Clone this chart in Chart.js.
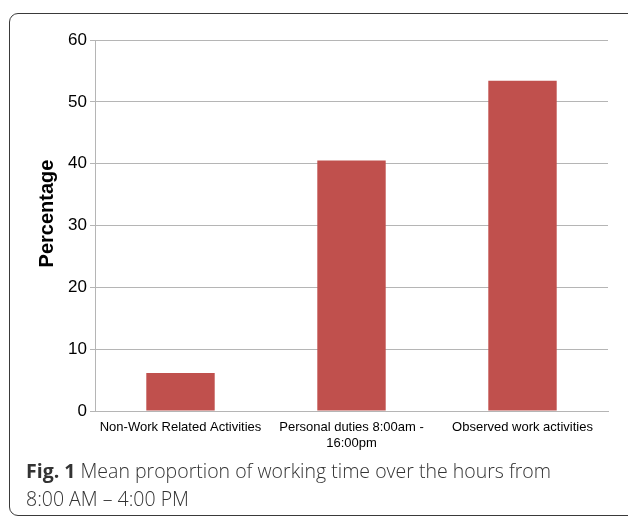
<!DOCTYPE html>
<html>
<head>
<meta charset="utf-8">
<script src="https://cdn.jsdelivr.net/npm/chart.js@4"></script>
<style>
  html, body { margin: 0; padding: 0; background: #fff; }
  body { width: 628px; height: 520px; position: relative; overflow: hidden; }
  .frame {
    position: absolute; left: 9px; top: 13px; width: 630px; height: 503px;
    border: 1.5px solid #3a3a3a; border-radius: 9px; box-sizing: border-box;
  }
  .chart { position: absolute; left: 0; top: 0; width: 628px; height: 460px; }
  .caption {
    position: absolute; left: 26px; top: 457px; width: 590px;
    font-family: "Open Sans", sans-serif; font-weight: 300; font-size: 19.5px;
    line-height: 28px; color: #333;
  }
  .caption b { font-weight: 700; }
</style>
</head>
<body>
<div class="frame"></div>
<div class="chart"><canvas id="bars"></canvas></div>
<div class="caption"><b>Fig. 1</b> Mean proportion of working time over the hours from<br>8:00 AM – 4:00 PM</div>
<script>
const categories = [
  "Non-Work Related Activities",
  ["Personal duties 8:00am -", "16:00pm"],
  "Observed work activities",
];
const percentages = [6.15, 40.5, 53.4];
const yTicks = [0, 10, 20, 30, 40, 50, 60];
const yTitle = "Percentage";

// y axis title, drawn a little above the middle of the axis as in the original
const yTitlePlugin = {
  id: "yTitle",
  afterDraw(chart) {
    const { ctx, chartArea } = chart;
    ctx.save();
    ctx.translate(47, (chartArea.top + chartArea.bottom) / 2 - 12);
    ctx.rotate(-Math.PI / 2);
    ctx.font = "bold 20px 'Liberation Sans', Arial, sans-serif";
    ctx.fillStyle = "#000";
    ctx.textAlign = "center";
    ctx.textBaseline = "middle";
    ctx.fillText(yTitle, 0, 0);
    ctx.restore();
  },
};

const ctx = document.getElementById("bars").getContext("2d");
new Chart(ctx, {
  type: "bar",
  data: {
    labels: categories,
    datasets: [
      {
        data: percentages,
        backgroundColor: "#c0504d",
        barPercentage: 0.4,
        categoryPercentage: 1,
      },
    ],
  },
  options: {
    responsive: true,
    maintainAspectRatio: false,
    animation: false,
    layout: { padding: { top: 40, right: 20, left: 0, bottom: 0 } },
    plugins: { legend: { display: false }, tooltip: { enabled: false } },
    scales: {
      x: {
        grid: { display: false, drawTicks: false },
        border: { display: true, color: "#b5b5b5", width: 1 },
        ticks: {
          color: "#000",
          font: { family: "Liberation Sans, Arial, sans-serif", size: 13 },
          padding: 9,
          maxRotation: 0,
          autoSkip: false,
        },
        afterFit: (scale) => { scale.height = 49; },
      },
      y: {
        min: 0,
        max: 60,
        afterBuildTicks: (scale) => {
          scale.ticks = yTicks.map((v) => ({ value: v }));
        },
        grid: { color: "#b5b5b5", lineWidth: 1, tickLength: 5 },
        border: { display: true, color: "#b5b5b5", width: 1 },
        ticks: {
          color: "#000",
          font: { family: "Liberation Sans, Arial, sans-serif", size: 17 },
          padding: 3,
        },
        afterFit: (scale) => { scale.width = 95; },
      },
    },
  },
  plugins: [yTitlePlugin],
});
</script>
</body>
</html>
